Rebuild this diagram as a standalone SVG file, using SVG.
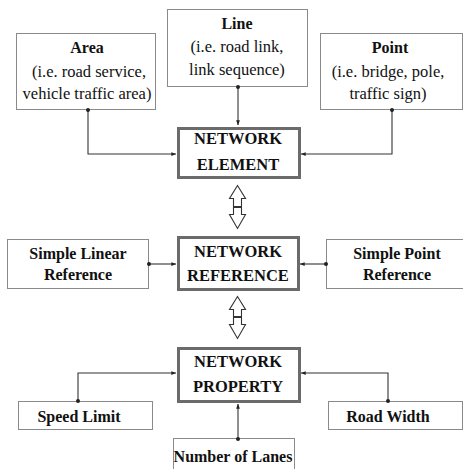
<svg xmlns="http://www.w3.org/2000/svg" width="463" height="469" viewBox="0 0 463 469">
<defs>
<style>
.box{fill:#fff;stroke:#8a8a8a;stroke-width:1}
.main{fill:#fff;stroke:#6b6b6b;stroke-width:3}
.t{font-family:"Liberation Serif","Times New Roman",serif;font-size:16.5px;fill:#111;text-anchor:middle}
.b{font-weight:bold;font-size:16px}
.m{font-size:16.5px}
.con{fill:none;stroke:#333;stroke-width:1.1}
.dot{fill:#222}
.dbl{fill:#fff;stroke:#333;stroke-width:1.1;stroke-linejoin:miter}
</style>
<marker id="ah" viewBox="0 0 8 8" refX="7.5" refY="4" markerWidth="5" markerHeight="5" orient="auto" markerUnits="userSpaceOnUse">
<path d="M0,1 L8,4 L0,7 Z" fill="#222"/>
</marker>
</defs>
<rect width="463" height="469" fill="#fff"/>

<g id="line">
<rect class="box" x="167.5" y="9.5" width="140" height="77"/>
<text class="t b" x="237" y="29">Line</text>
<text class="t" x="237" y="52">(i.e. road link,</text>
<text class="t" x="237" y="75">link sequence)</text>
</g>
<g id="area">
<rect class="box" x="16.5" y="33.5" width="139" height="76"/>
<text class="t b" x="87" y="53">Area</text>
<text class="t" x="89" y="77">(i.e. road service,</text>
<text class="t" x="87" y="99">vehicle traffic area)</text>
</g>
<g id="point">
<rect class="box" x="320.5" y="33.5" width="142" height="76"/>
<text class="t b" x="390" y="53">Point</text>
<text class="t" x="388" y="77">(i.e. bridge, pole,</text>
<text class="t" x="388" y="99">traffic sign)</text>
</g>

<g id="network-element">
<rect class="main" x="178.5" y="128.5" width="121" height="49"/>
<text class="t b m" x="238" y="144">NETWORK</text>
<text class="t b m" x="238" y="170">ELEMENT</text>
</g>
<g id="network-reference">
<rect class="main" x="178.5" y="237.5" width="120" height="52"/>
<text class="t b m" x="238" y="257">NETWORK</text>
<text class="t b m" x="238" y="281">REFERENCE</text>
</g>
<g id="network-property">
<rect class="main" x="178.5" y="348.5" width="121" height="53"/>
<text class="t b m" x="238" y="367">NETWORK</text>
<text class="t b m" x="238" y="392">PROPERTY</text>
</g>

<g id="simple-linear-reference">
<rect class="box" x="7.5" y="239.5" width="141" height="49"/>
<text class="t b" x="78" y="259">Simple Linear</text>
<text class="t b" x="78" y="280">Reference</text>
</g>
<g id="simple-point-reference">
<rect class="box" x="326.5" y="239.5" width="137" height="49"/>
<text class="t b" x="397" y="259">Simple Point</text>
<text class="t b" x="397" y="280">Reference</text>
</g>

<g id="speed-limit">
<rect class="box" x="18.5" y="401.5" width="134" height="28"/>
<text class="t b" x="79" y="422">Speed Limit</text>
</g>
<g id="road-width">
<rect class="box" x="328.5" y="401.5" width="134" height="28"/>
<text class="t b" x="388" y="422">Road Width</text>
</g>
<g id="number-of-lanes">
<rect class="box" x="173.5" y="438.5" width="121" height="32"/>
<text class="t b" x="233" y="462">Number of Lanes</text>
</g>

<g id="connectors">
<path class="con" d="M88,110 V154 H176" marker-end="url(#ah)"/>
<circle class="dot" cx="88" cy="110" r="2"/>
<path class="con" d="M238,87 V125" marker-end="url(#ah)"/>
<circle class="dot" cx="238" cy="87" r="2"/>
<path class="con" d="M392,110 V154 H301" marker-end="url(#ah)"/>
<circle class="dot" cx="392" cy="110" r="2"/>

<path class="con" d="M149,264 H176" marker-end="url(#ah)"/>
<circle class="dot" cx="149" cy="264" r="2"/>
<path class="con" d="M326,264 H300" marker-end="url(#ah)"/>
<circle class="dot" cx="326" cy="264" r="2"/>

<path class="con" d="M78,401 V373 H176" marker-end="url(#ah)"/>
<circle class="dot" cx="78" cy="401" r="2"/>
<path class="con" d="M388,401 V373 H301" marker-end="url(#ah)"/>
<circle class="dot" cx="388" cy="401" r="2"/>
<path class="con" d="M238,439 V404" marker-end="url(#ah)"/>
<circle class="dot" cx="238" cy="439" r="2"/>

<path class="dbl" d="M237.5,185.5 L245.5,198.5 L241.5,198.5 L241.5,206.5 L233.5,206.5 L233.5,198.5 L229.5,198.5 Z"/>
<path class="dbl" d="M233.5,207.5 L241.5,207.5 L241.5,214.5 L245.5,214.5 L237.5,228.5 L229.5,214.5 L233.5,214.5 Z"/>
<path class="dbl" d="M237.5,296.5 L245.5,309.5 L241.5,309.5 L241.5,316.5 L233.5,316.5 L233.5,309.5 L229.5,309.5 Z"/>
<path class="dbl" d="M233.5,317.5 L241.5,317.5 L241.5,324.5 L245.5,324.5 L237.5,338.5 L229.5,324.5 L233.5,324.5 Z"/>
</g>
</svg>
